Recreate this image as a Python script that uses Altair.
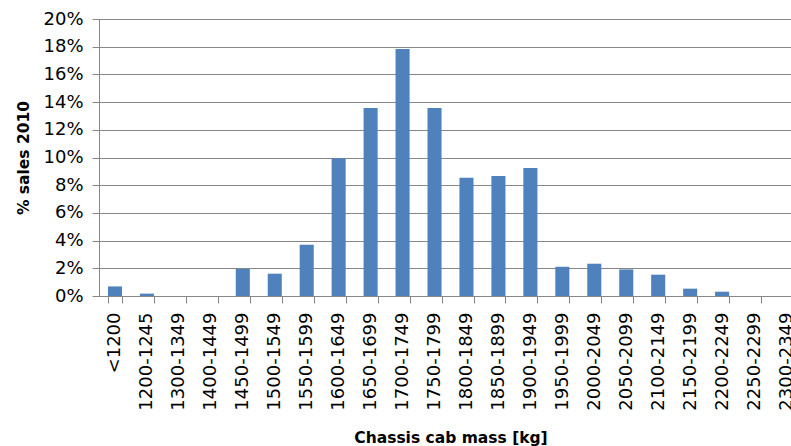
import altair as alt
import pandas as pd

categories = ["<1200", "1200-1245", "1300-1349", "1400-1449", "1450-1499",
              "1500-1549", "1550-1599", "1600-1649", "1650-1699", "1700-1749",
              "1750-1799", "1800-1849", "1850-1899", "1900-1949", "1950-1999",
              "2000-2049", "2050-2099", "2100-2149", "2150-2199", "2200-2249",
              "2250-2299", "2300-2349"]
share_pct = [0.69, 0.17, 0, 0, 1.95, 1.61, 3.70, 9.95, 13.58, 17.83,
             13.58, 8.53, 8.67, 9.25, 2.11, 2.33, 1.92, 1.54, 0.53, 0.31,
             0, 0]
y_ticks = [0, 0.02, 0.04, 0.06, 0.08, 0.10, 0.12, 0.14, 0.16, 0.18, 0.20]

df = pd.DataFrame({"mass": categories, "share": [v / 100 for v in share_pct]})

GRAY = "#878787"
FONT = "DejaVu Sans"

xscale = alt.Scale(domain=categories, range=[0, 703],
                   paddingInner=0.56, paddingOuter=0.28)

chart = alt.Chart(df).mark_bar(color="#4F81BD").encode(
    x=alt.X("mass:N", sort=categories, scale=xscale,
            axis=alt.Axis(title="Chassis cab mass [kg]", labelAngle=270,
                          tickBand="extent", tickSize=7, tickColor=GRAY,
                          domainColor=GRAY, labelPadding=9, labelFontSize=18,
                          labelFont=FONT, labelColor="#000000",
                          labelOverlap=False, titleFont=FONT,
                          titleFontSize=15.5, titleFontWeight="bold",
                          titleColor="#000000", titlePadding=20,
                          grid=False)),
    y=alt.Y("share:Q", scale=alt.Scale(domain=[0, 0.2], nice=False),
            axis=alt.Axis(title="% sales 2010", format=".0%", values=y_ticks,
                          grid=True, gridColor=GRAY, gridOpacity=1,
                          tickSize=7, tickColor=GRAY, domainColor=GRAY,
                          labelPadding=9, labelFontSize=18, labelFont=FONT,
                          labelColor="#000000", titleFont=FONT,
                          titleFontSize=15.5, titleFontWeight="bold",
                          titleColor="#000000", titlePadding=11)),
).properties(
    width=692, height=277,
    autosize=alt.AutoSizeParams(type="none"),
    padding={"left": 99, "top": 19, "right": 0, "bottom": 150},
).configure_view(strokeWidth=0)

chart.save("out.html", embed_options={"renderer": "svg", "actions": False})
